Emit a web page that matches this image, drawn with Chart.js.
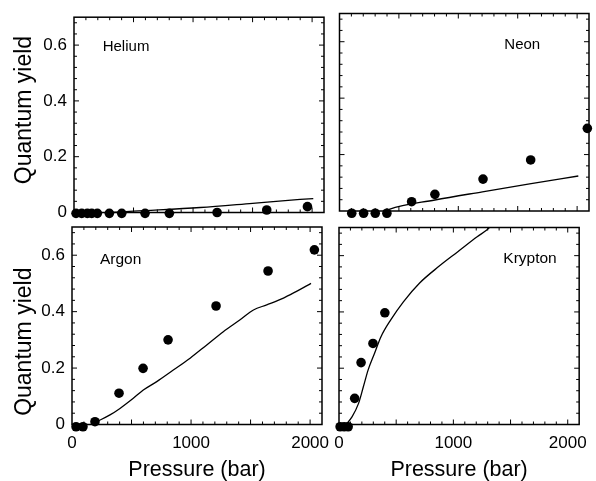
<!DOCTYPE html>
<html>
<head>
<meta charset="utf-8">
<script src="https://cdn.jsdelivr.net/npm/chart.js@4.4.0/dist/chart.umd.min.js"></script>
<style>
  html, body { margin: 0; padding: 0; background: #fff; overflow: hidden; }
  #wrap { position: relative; width: 596px; height: 481px; }
  #wrap canvas { position: absolute; left: 0; top: 0; }
</style>
</head>
<body>
<div id="wrap">
  <canvas id="helium" width="596" height="481"></canvas>
  <canvas id="neon" width="596" height="481"></canvas>
  <canvas id="argon" width="596" height="481"></canvas>
  <canvas id="krypton" width="596" height="481"></canvas>
</div>
<script>
// ---- data (pressure in bar, quantum yield) ----
const xTicks = [0, 1000, 2000];
const yTicks = [0, 0.2, 0.4, 0.6];

const heliumP = [17, 65, 112, 149, 196, 297, 401, 597, 801, 1202, 1619, 1961];
const heliumY = [-0.003, -0.003, -0.003, -0.003, -0.003, -0.003, -0.003, -0.003, -0.003, 0.0, 0.009, 0.021];
const heliumFitP = [300, 500, 1060, 1500, 1900, 2010];
const heliumFitY = [0.0, 0.005, 0.018, 0.033, 0.047, 0.05];

const neonP = [103, 203, 301, 399, 607, 803, 1208, 1609, 2086];
const neonY = [-0.008, -0.008, -0.008, -0.008, 0.033, 0.059, 0.113, 0.181, 0.293];
const neonFitP = [390, 418, 803, 1203, 1600, 2010];
const neonFitY = [0.0, 0.006, 0.039, 0.068, 0.096, 0.124];

const argonP = [34, 92, 193, 395, 597, 807, 1210, 1647, 2036];
const argonY = [-0.008, -0.008, 0.01, 0.111, 0.199, 0.3, 0.42, 0.544, 0.619];
const argonFitP = [208, 319, 403, 515, 599, 712, 851, 992, 1132, 1271, 1412, 1524, 1636, 1776, 1882, 2008];
const argonFitY = [0.01, 0.034, 0.057, 0.093, 0.122, 0.152, 0.193, 0.235, 0.282, 0.329, 0.371, 0.406, 0.424, 0.448, 0.471, 0.5];

const kryptonP = [10, 45, 80, 137, 193, 297, 401];
const kryptonY = [-0.008, -0.008, -0.008, 0.093, 0.22, 0.288, 0.397];
const kryptonFitP = [50, 115, 171, 213, 255, 311, 367, 451, 563, 703, 871, 1039, 1208, 1292, 1340];
const kryptonFitY = [-0.006, 0.028, 0.075, 0.134, 0.194, 0.253, 0.312, 0.371, 0.436, 0.502, 0.561, 0.614, 0.667, 0.691, 0.71];

const FONT = "'Liberation Sans', Arial, Helvetica, sans-serif";
const W = 596, H = 481;

function toXY(xs, ys) {
  return xs.map((x, i) => ({ x: x, y: ys[i] }));
}

// frame with inward ticks on all four sides
const frameTicks = {
  id: 'frameTicks',
  afterDatasetsDraw(chart) {
    const { ctx, chartArea: a, scales: { x, y } } = chart;
    ctx.save();
    ctx.strokeStyle = '#000';
    ctx.lineWidth = 1;
    ctx.beginPath();
    for (let v = 100; v < x.max; v += 100) {
      const px = x.getPixelForValue(v);
      const len = v % 500 === 0 ? 5 : 3;
      ctx.moveTo(px, a.bottom); ctx.lineTo(px, a.bottom - len);
      ctx.moveTo(px, a.top); ctx.lineTo(px, a.top + len);
    }
    for (let i = 1; i * 0.04 < y.max; i++) {
      const py = y.getPixelForValue(i * 0.04);
      const len = i % 5 === 0 ? 5 : 3;
      ctx.moveTo(a.left, py); ctx.lineTo(a.left + len, py);
      ctx.moveTo(a.right, py); ctx.lineTo(a.right - len, py);
    }
    ctx.stroke();
    ctx.lineWidth = 1.5;
    ctx.strokeRect(a.left, a.top, a.right - a.left, a.bottom - a.top);
    ctx.restore();
  }
};

// gas names and y titles
const panelText = {
  id: 'panelText',
  afterDraw(chart, args, opts) {
    const ctx = chart.ctx;
    (opts.items || []).forEach(t => {
      ctx.save();
      ctx.fillStyle = '#000';
      ctx.font = t.size + 'px ' + FONT;
      ctx.translate(t.x, t.y);
      if (t.rotate) ctx.rotate(-Math.PI / 2);
      ctx.textAlign = t.align || 'left';
      ctx.textBaseline = t.baseline || 'middle';
      ctx.fillText(t.text, 0, 0);
      ctx.restore();
    });
  }
};

function makePanel(id, p) {
  const xh = p.showX ? H - p.area.bottom : 0;
  const yw = p.showY ? p.area.left : 0;
  return new Chart(document.getElementById(id), {
    type: 'scatter',
    data: {
      datasets: [
        {
          data: toXY(p.pts, p.vals),
          showLine: false,
          pointRadius: 4.8,
          pointBackgroundColor: '#000',
          pointBorderWidth: 0,
          clip: false
        },
        {
          data: toXY(p.fitP, p.fitY),
          showLine: true,
          borderColor: '#000',
          borderWidth: 1.3,
          pointRadius: 0,
          cubicInterpolationMode: 'monotone'
        }
      ]
    },
    options: {
      responsive: false,
      animation: false,
      events: [],
      layout: {
        padding: {
          left: p.showY ? 0 : p.area.left,
          top: p.area.top,
          right: W - p.area.right,
          bottom: p.showX ? 0 : H - p.area.bottom
        }
      },
      plugins: {
        legend: { display: false },
        tooltip: { enabled: false },
        panelText: { items: p.text }
      },
      scales: {
        x: {
          type: 'linear',
          min: 0,
          max: 2100,
          display: p.showX,
          afterFit: s => { s.height = xh; },
          afterBuildTicks: s => { s.ticks = xTicks.map(v => ({ value: v })); },
          grid: { display: false, drawTicks: false },
          border: { display: false },
          ticks: {
            padding: 9,
            color: '#000',
            autoSkip: false,
            maxRotation: 0,
            font: { family: FONT, size: 17 },
            callback: v => String(v)
          },
          title: {
            display: true,
            text: 'Pressure (bar)',
            color: '#000',
            padding: 0,
            font: { family: FONT, size: 21.5, lineHeight: 1 }
          }
        },
        y: {
          min: 0,
          max: 0.7,
          display: p.showY,
          afterFit: s => { s.width = yw; },
          afterBuildTicks: s => { s.ticks = yTicks.map(v => ({ value: v })); },
          grid: { display: false, drawTicks: false },
          border: { display: false },
          ticks: {
            padding: 7,
            color: '#000',
            font: { family: FONT, size: 17 },
            callback: v => (v === 0 ? '0' : v.toFixed(1))
          }
        }
      }
    },
    plugins: [frameTicks, panelText]
  });
}

makePanel('helium', {
  area: { left: 74, top: 15, right: 324, bottom: 212.5 },
  showX: false, showY: true,
  pts: heliumP, vals: heliumY, fitP: heliumFitP, fitY: heliumFitY,
  text: [
    { text: 'Helium', x: 102.7, y: 46.7, size: 15 },
    { text: 'Quantum yield', x: 30.5, y: 110, size: 23, rotate: true, align: 'center', baseline: 'alphabetic' }
  ]
});

makePanel('neon', {
  area: { left: 339.5, top: 13.5, right: 589, bottom: 211 },
  showX: false, showY: false,
  pts: neonP, vals: neonY, fitP: neonFitP, fitY: neonFitY,
  text: [{ text: 'Neon', x: 504.3, y: 45, size: 15 }]
});

makePanel('argon', {
  area: { left: 72, top: 227, right: 322, bottom: 424.5 },
  showX: true, showY: true,
  pts: argonP, vals: argonY, fitP: argonFitP, fitY: argonFitY,
  text: [
    { text: 'Argon', x: 100, y: 260, size: 15.5 },
    { text: 'Quantum yield', x: 30.5, y: 341.7, size: 23, rotate: true, align: 'center', baseline: 'alphabetic' }
  ]
});

makePanel('krypton', {
  area: { left: 339, top: 227.5, right: 588.5, bottom: 424.5 },
  showX: true, showY: false,
  pts: kryptonP, vals: kryptonY, fitP: kryptonFitP, fitY: kryptonFitY,
  text: [{ text: 'Krypton', x: 503.3, y: 258.3, size: 15.5 }]
});
</script>
</body>
</html>
